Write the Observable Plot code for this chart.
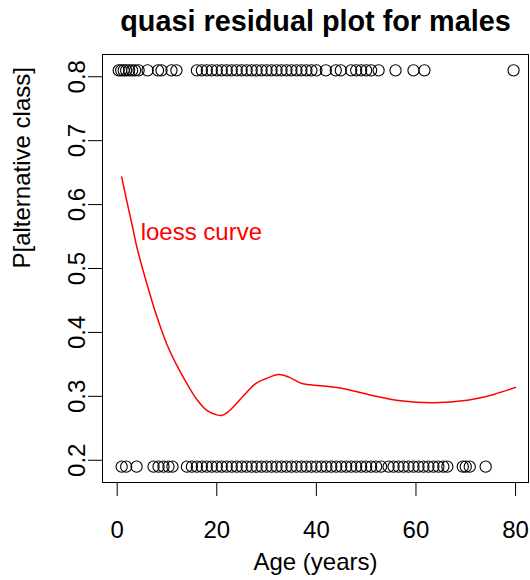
<!DOCTYPE html>
<html>
<head>
<meta charset="utf-8">
<script src="https://cdn.jsdelivr.net/npm/d3@7"></script>
<script src="https://cdn.jsdelivr.net/npm/@observablehq/plot@0.6"></script>
<style>
  html, body { margin: 0; padding: 0; background: #ffffff; }
  #chart svg { display: block; }
</style>
</head>
<body>
<div id="chart"></div>
<script>
// ---- data ----
const titleText = "quasi residual plot for males";
const xLabel = "Age (years)";
const yLabel = "P[alternative class]";
const xTicks = [0, 20, 40, 60, 80];
const yTicks = [0.2, 0.3, 0.4, 0.5, 0.6, 0.7, 0.8];

// quasi residuals: upper row (0.81) and lower row (0.19)
const upperValue = 0.81;
const lowerValue = 0.19;
const upperAges = [0.3, 0.8, 1.3, 1.8, 2.4, 3.0, 3.6, 4.3, 6.1, 8.2, 8.9, 10.9, 11.9,
  16, 17, 18, 19, 20, 21, 22, 23, 24, 25, 26, 27, 28, 29, 30, 31, 32, 33, 34, 35, 36, 37,
  38, 39, 40, 41.9, 43.9, 44.9, 47, 48, 49, 50, 51, 52.5, 55.9, 59.5, 61.7, 79.6];
const lowerAges = [0.9, 1.8, 3.9, 7.3, 8.3, 9.3, 10.3, 11.1,
  14, 15, 16, 17, 18, 19, 20, 21, 22, 23, 24, 25, 26, 27, 28, 29, 30, 31, 32, 33, 34, 35,
  36, 37, 38, 39, 40, 41, 42, 43, 44, 45, 46, 47, 48, 49, 50, 51, 52, 53, 54.5, 55.5, 56.5,
  57.5, 58.5, 59.5, 60.5, 61.5, 62.5, 63.5, 64.5, 65.5, 66.3, 69.4, 70, 70.8, 74];

// loess curve
const loessAge = [0.9, 2, 3, 4, 6, 8, 10, 12, 14, 16, 18, 20, 21, 22, 23.4, 25.5, 27.8, 30,
  32.4, 34.5, 37.1, 38.8, 44.8, 51.5, 56.9, 63.6, 70.3, 75.6, 80];
const loessP = [0.643, 0.603, 0.568, 0.532, 0.475, 0.424, 0.381, 0.348, 0.320, 0.295, 0.278,
  0.271, 0.270, 0.274, 0.284, 0.302, 0.320, 0.328, 0.334, 0.330, 0.320, 0.318, 0.313, 0.301,
  0.293, 0.290, 0.294, 0.303, 0.314];
const curveLabel = "loess curve";
const curveLabelAge = 16.9;
const curveLabelP = 0.557;

// ---- build tables ----
const points = [
  ...upperAges.map(a => ({age: a, p: upperValue})),
  ...lowerAges.map(a => ({age: a, p: lowerValue}))
];
const loess = loessAge.map((a, i) => ({age: a, p: loessP[i]}));

const font = "'Liberation Sans', Arial, Helvetica, sans-serif";

const chart = Plot.plot({
  width: 530,
  height: 580,
  marginLeft: 102,
  marginRight: 2,
  marginTop: 54,
  marginBottom: 98,
  style: {fontFamily: font, background: "#ffffff", color: "black"},
  x: {domain: [-2.95, 82.6]},
  y: {domain: [0.1652, 0.8348]},
  marks: [
    Plot.frame({stroke: "black", strokeWidth: 1}),
    Plot.axisX({ticks: xTicks, tickSize: 14, tickFormat: () => "", label: null, strokeWidth: 1}),
    Plot.axisY({ticks: yTicks, tickSize: 14, tickFormat: () => "", label: null, strokeWidth: 1}),
    Plot.text(xTicks, {x: d => d, text: d => String(d), frameAnchor: "bottom", dy: 48,
      lineAnchor: "middle", textAnchor: "middle", fontSize: 24, fill: "black"}),
    Plot.text(yTicks, {y: d => d, text: d => d.toFixed(1), frameAnchor: "left", dx: -25,
      rotate: -90, lineAnchor: "middle", textAnchor: "middle", fontSize: 24, fill: "black"}),
    Plot.dot(points, {x: "age", y: "p", r: 5.6, stroke: "black", fill: "none", strokeWidth: 1.1}),
    Plot.line(loess, {x: "age", y: "p", stroke: "#ff0000", strokeWidth: 1.5, curve: "catmull-rom"}),
    Plot.text([curveLabel], {x: curveLabelAge, y: curveLabelP, text: d => d, fill: "#ff0000",
      fontSize: 24, textAnchor: "middle", lineAnchor: "middle"}),
    Plot.text([xLabel], {frameAnchor: "bottom", dy: 80, text: d => d, fontSize: 24,
      lineAnchor: "middle", fill: "black"}),
    Plot.text([yLabel], {frameAnchor: "left", dx: -80, rotate: -90, text: d => d, fontSize: 24,
      lineAnchor: "middle", fill: "black"}),
    Plot.text([titleText], {frameAnchor: "top", dy: -33, text: d => d, fontSize: 28.8,
      fontWeight: "bold", lineAnchor: "middle", fill: "black"})
  ]
});
document.getElementById("chart").appendChild(chart);
</script>
</body>
</html>
